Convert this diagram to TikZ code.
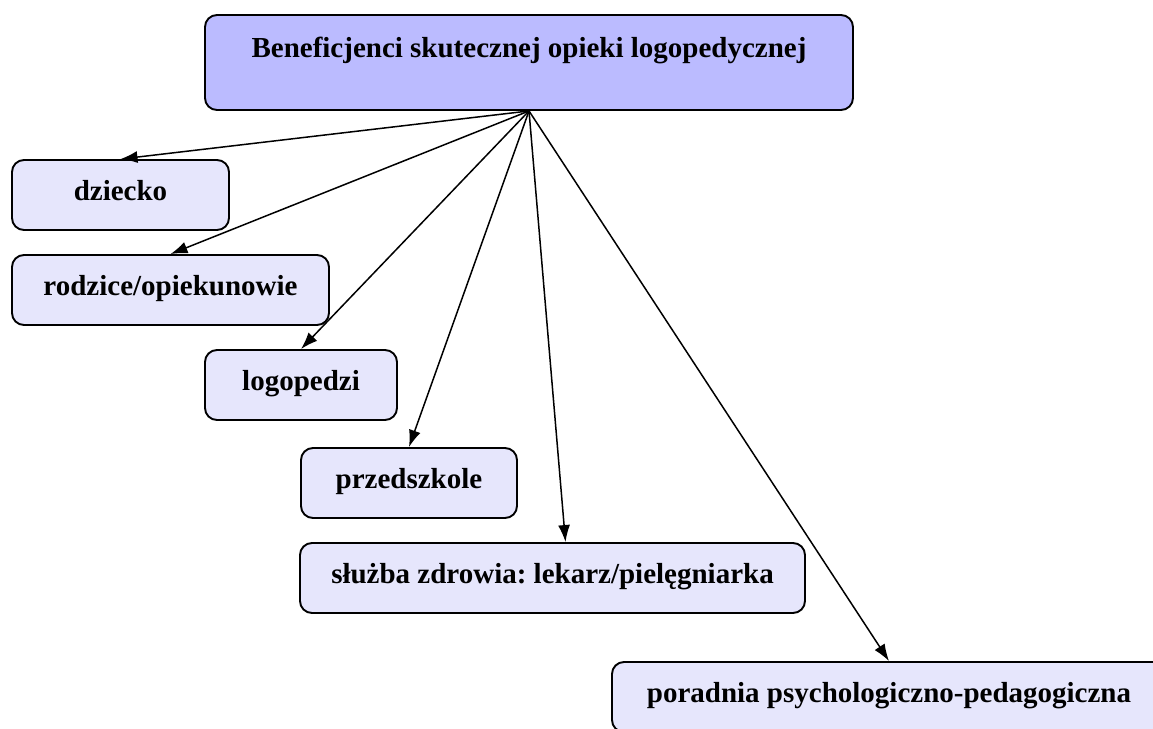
\documentclass[tikz,border=0pt]{standalone}
\usepackage{fontspec}
\setmainfont{Liberation Serif}
\usetikzlibrary{arrows.meta}

\definecolor{headfill}{RGB}{187,187,255}
\definecolor{itemfill}{RGB}{230,230,252}

\begin{document}
\frenchspacing
\begin{tikzpicture}[x=1pt,y=1pt,
    box/.style={draw, line width=1.9pt, rounded corners=12pt, fill=itemfill,
        font=\bfseries\fontsize{29}{34}\selectfont, inner xsep=0pt, inner ysep=0pt,
        text height=40pt, text depth=30pt},
    head/.style={box, fill=headfill, text height=42pt, text depth=53pt},
    link/.style={line width=1.5pt, -{Latex[length=17pt,width=12pt]}}]

    % frame
    \useasboundingbox (0,0) rectangle (1153,-728);

    % boxes
    \node[head, minimum width=648pt] (top) at (529,-62.5) {Beneficjenci skutecznej opieki logopedycznej};
    \node[box, minimum width=217pt] (dziecko) at (120.5,-195) {dziecko};
    \node[box, minimum width=317pt] (rodzice) at (170.5,-290) {rodzice/opiekunowie};
    \node[box, minimum width=192pt] (logopedzi) at (301,-385) {logopedzi};
    \node[box, minimum width=216pt] (przedszkole) at (409,-483) {przedszkole};
    \node[box, minimum width=505pt] (sluzba) at (552.5,-578) {służba zdrowia: lekarz/pielęgniarka};
    \node[box, minimum width=554pt] (poradnia) at (889,-697) {poradnia psychologiczno-pedagogiczna};

    % arrows
    \coordinate (sluzbatop) at ([xshift=13pt]sluzba.north);
    \foreach \target in {dziecko.north,rodzice.north,logopedzi.north,przedszkole.north,sluzbatop,poradnia.north}
        \draw[link] (top.south) -- (\target);

\end{tikzpicture}
\end{document}
